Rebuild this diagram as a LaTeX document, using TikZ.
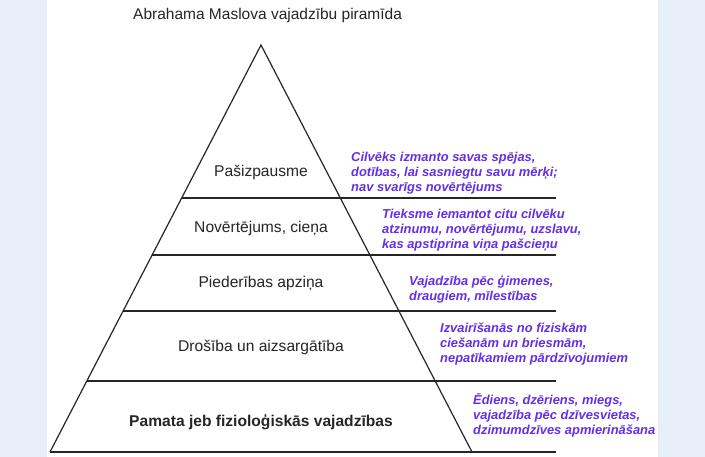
\documentclass[tikz,border=0pt]{standalone}
\usepackage{fontspec}
\setmainfont{Liberation Sans}
\definecolor{bgblue}{RGB}{230,238,250}
\definecolor{notecol}{RGB}{98,48,232}
\begin{document}
\begin{tikzpicture}[x=1pt,y=-1pt,
  level/.style={font=\fontsize{15.6}{18}\selectfont, text=black!85},
  note/.style={anchor=west, align=left, text=notecol, font=\fontsize{12.9}{15}\selectfont\bfseries\itshape, inner sep=0pt},
  edge/.style={draw=black!85, line width=1.2pt}]
\useasboundingbox (0,0) rectangle (705,457);
\fill[bgblue] (0,0) rectangle (705,457);
\fill[white] (47,0) rectangle (658,457);
\node[font=\fontsize{15.5}{18}\selectfont, text=black!85, anchor=west, inner sep=0pt] (title) at (133,15) {Abrahama Maslova vajadzību piramīda};
% pyramid
\coordinate (apex) at (261,45);
\coordinate (bl) at (50,452);
\coordinate (br) at (472,452);
\coordinate (l1) at (181.7,198); \coordinate (r1) at (556,198);
\coordinate (l2) at (152.1,255); \coordinate (r2) at (556,255);
\coordinate (l3) at (123.1,311); \coordinate (r3) at (556,311);
\coordinate (l4) at (86.8,381);  \coordinate (r4) at (556,381);
\coordinate (r5) at (556,452);
\draw[edge, line join=miter] (bl) -- (apex) -- (br);
\draw[edge] (l1) -- (r1);
\draw[edge] (l2) -- (r2);
\draw[edge] (l3) -- (r3);
\draw[edge] (l4) -- (r4);
\draw[edge] (bl) -- (r5);
% level labels
\node[level] (n1) at (261,172) {Pašizpausme};
\node[level] (n2) at (261,229) {Novērtējums, cieņa};
\node[level] (n3) at (261,284) {Piederības apziņa};
\node[level] (n4) at (261,347) {Drošība un aizsargātība};
\node[level, font=\fontsize{15.6}{18}\selectfont\bfseries] (n5) at (261,422) {Pamata jeb fizioloģiskās vajadzības};
% notes
\node[note] (d1) at (351,173) {Cilvēks izmanto savas spējas,\\dotības, lai sasniegtu savu mērķi;\\nav svarīgs novērtējums};
\node[note] (d2) at (382,230) {Tieksme iemantot citu cilvēku\\atzinumu, novērtējumu, uzslavu,\\kas apstiprina viņa pašcieņu};
\node[note] (d3) at (409,289) {Vajadzība pēc ģimenes,\\draugiem, mīlestības};
\node[note] (d4) at (440,344) {Izvairīšanās no fiziskām\\ciešanām un briesmām,\\nepatīkamiem pārdzīvojumiem};
\node[note] (d5) at (473,415) {Ēdiens, dzēriens, miegs,\\vajadzība pēc dzīvesvietas,\\dzimumdzīves apmierināšana};
\end{tikzpicture}
\end{document}
